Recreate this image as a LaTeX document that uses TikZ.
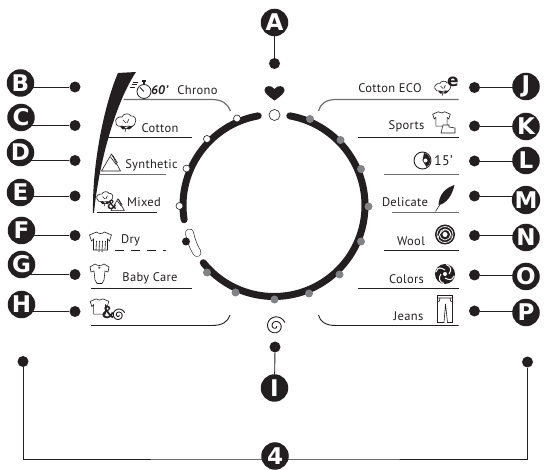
\documentclass[tikz,border=0pt]{standalone}
\usepackage{fontspec}
\usepackage{pgf, tikz}
\setmainfont{PT Sans}[LetterSpace=2.5]
\newfontfamily\bubblefont{DejaVu Sans}
\definecolor{ink}{HTML}{231F20}
\definecolor{markgrey}{HTML}{808285}
\pgfdeclarelayer{edgelayer}
\pgfdeclarelayer{nodelayer}
\pgfsetlayers{edgelayer,main,nodelayer}
\tikzstyle{edge}=[draw=ink, line width=0.9pt]
\tikzstyle{rule}=[draw=ink, line width=0.9pt]
\tikzstyle{softrule}=[draw=ink!65, line width=1.2pt]
\tikzstyle{iconline}=[draw=ink, line width=0.6pt]
\tikzstyle{bubble}=[circle, fill=ink, inner sep=0pt, minimum size=27.5pt, text=white, font=\bubblefont\bfseries\fontsize{23}{23}\selectfont]
\tikzstyle{dot}=[circle, fill=ink, inner sep=0pt, minimum size=11pt]
\tikzstyle{openmark}=[circle, fill=white, draw=ink, line width=0.6pt, inner sep=0pt, minimum size=7pt]
\tikzstyle{greymark}=[circle, fill=markgrey, inner sep=0pt, minimum size=8pt]
\tikzstyle{label}=[inner sep=0pt, text=ink, font=\fontsize{12.5}{12.5}\selectfont]
\tikzstyle{ringarc}=[draw=ink, line width=7pt, line cap=round]
\tikzset{
  cottonicon/.pic={
    \draw [style=iconline, fill=white] (-10,0) .. controls (-12,-4) and (-7,-7) .. (-4,-6) .. controls (-3,-10) and (4,-10) .. (5,-7) .. controls (9,-8) and (11,-3) .. (9,0) .. controls (9,3) and (5,4) .. (2,3) .. controls (0,4) and (-3,4) .. (-4,3) .. controls (-6,4) and (-10,3) .. cycle;
    \draw [style=iconline] (-3,-3) -- (0,0) (3,-4) -- (1,0);
    \fill [ink] (-6,3) .. controls (-3,3) and (0,3) .. (0,6) .. controls (1,3) and (3,3) .. (7,3) .. controls (4,7) and (2,7) .. (0,6) .. controls (-2,7) and (-4,7) .. cycle;
    \draw [style=iconline] (0,5) -- (-1,9);
  },
  shirticon/.pic={
    \draw [style=iconline, fill=white] (-4,-9) .. controls (-2,-7) and (2,-7) .. (4,-9) -- (11,-6) -- (9,0) -- (7,-2) -- (7,9) -- (-7,9) -- (-7,-2) -- (-9,0) -- (-11,-6) -- cycle;
  },
  swirlicon/.pic={
    \draw [draw=ink, line width=0.9pt] plot [domain=0:700, samples=70, smooth] ({(1+\x/78)*cos(\x)}, {(1+\x/78)*sin(\x)});
  },
  triangleicon/.pic={
    \draw [style=iconline, fill=white, line join=round] (0,-9) -- (-10,8) -- (9,8) -- cycle;
    \draw [style=iconline] (-1,-6) -- (5,2) (1,-8) -- (6,0);
  }
}

\begin{document}
\begin{tikzpicture}[x=1pt, y=-1pt]
	\useasboundingbox (0,0) rectangle (544,470);
	\begin{pgfonlayer}{nodelayer}
		\node [style=bubble] (A) at (274.5, 22.5) {A};
		\node [style=bubble] (B) at (20.5, 83) {B};
		\node [style=bubble] (C) at (21, 117.5) {C};
		\node [style=bubble] (D) at (20.5, 152.5) {D};
		\node [style=bubble] (E) at (20.5, 192.5) {E};
		\node [style=bubble] (F) at (21.5, 230.5) {F};
		\node [style=bubble] (G) at (21.5, 264.5) {G};
		\node [style=bubble] (H) at (21.5, 304.5) {H};
		\node [style=bubble] (I) at (274.5, 388) {I};
		\node [style=bubble] (J) at (526, 86.5) {J};
		\node [style=bubble] (K) at (526, 126.5) {K};
		\node [style=bubble] (L) at (526, 160.5) {L};
		\node [style=bubble] (M) at (526, 200) {M};
		\node [style=bubble] (N) at (526, 237.5) {N};
		\node [style=bubble] (O) at (526, 276.5) {O};
		\node [style=bubble] (P) at (526, 312.5) {P};
		\node [style=bubble] (four) at (275, 456) {4};
		\node [style=dot] (dotA) at (274.5, 63.5) {};
		\node [style=dot] (dotB) at (75, 87) {};
		\node [style=dot] (dotC) at (75, 125.5) {};
		\node [style=dot] (dotD) at (75, 160.5) {};
		\node [style=dot] (dotE) at (75, 196) {};
		\node [style=dot] (dotF) at (75, 235.5) {};
		\node [style=dot] (dotG) at (75, 274.5) {};
		\node [style=dot] (dotH) at (75, 311.5) {};
		\node [style=dot] (dotI) at (275, 347) {};
		\node [style=dot] (dotJ) at (474.5, 87.5) {};
		\node [style=dot] (dotK) at (474.5, 126) {};
		\node [style=dot] (dotL) at (474.5, 161) {};
		\node [style=dot] (dotM) at (474.5, 196) {};
		\node [style=dot] (dotN) at (474.5, 235.5) {};
		\node [style=dot] (dotO) at (474.5, 275) {};
		\node [style=dot] (dotP) at (474.5, 311) {};
		\node [style=dot] (dotleft) at (23, 361.5) {};
		\node [style=dot] (dotright) at (527.5, 362) {};
		\node [style=openmark] (top) at (274.5, 115) [minimum size=11pt] {};
		\node [style=openmark] (m1) at (237, 118.5) {};
		\node [style=openmark] (m2) at (207, 139) {};
		\node [style=openmark] (m3) at (186.5, 168.5) {};
		\node [style=openmark] (m4) at (179.5, 206) {};
		\node [style=dot] (m5) at (186, 241.5) [minimum size=8pt] {};
		\node [style=greymark] (m6) at (207, 272.5) {};
		\node [style=greymark] (m7) at (235.5, 292.5) {};
		\node [style=greymark] (m8) at (274.5, 299.5) {};
		\node [style=greymark] (m9) at (309, 293.5) {};
		\node [style=greymark] (m10) at (339.5, 274.5) {};
		\node [style=greymark] (m11) at (361, 241.5) {};
		\node [style=greymark] (m12) at (368.5, 206.5) {};
		\node [style=greymark] (m13) at (361, 169) {};
		\node [style=greymark] (m14) at (340.5, 140) {};
		\node [style=greymark] (m15) at (310, 119) {};
		\coordinate (ringc) at (274, 205.5);
		\coordinate (foot) at (275, 459);
	\end{pgfonlayer}
	\begin{pgfonlayer}{edgelayer}
		\draw [style=edge] (dotA) to (A);
		\draw [style=edge] (dotB) to (dotB -| B);
		\draw [style=edge] (dotC) to (dotC -| C);
		\draw [style=edge] (dotD) to (dotD -| D);
		\draw [style=edge] (dotE) to (dotE -| E);
		\draw [style=edge] (dotF) to (dotF -| F);
		\draw [style=edge] (dotG) to (dotG -| G);
		\draw [style=edge] (dotH) to (dotH -| H);
		\draw [style=edge] (dotI) to (I);
		\draw [style=edge] (dotJ) to (dotJ -| J);
		\draw [style=edge] (dotK) to (dotK -| K);
		\draw [style=edge] (dotL) to (dotL -| L);
		\draw [style=edge] (dotM) to (dotM -| M);
		\draw [style=edge] (dotN) to (dotN -| N);
		\draw [style=edge] (dotO) to (dotO -| O);
		\draw [style=edge] (dotP) to (dotP -| P);
		\draw [style=edge] (dotleft) |- (foot) -| (dotright);
		\draw [style=ringarc] (ringc) ++(100:91pt) arc [start angle=100, end angle=189, radius=91pt];
		\draw [style=ringarc] (ringc) ++(219:91pt) arc [start angle=219, end angle=440, radius=91pt];
		\draw [draw=ink, line width=0.6pt, double=white, double distance=7.5pt, line cap=round] (189.5, 233) .. controls (191, 240) and (193, 246) .. (197, 252.5);
	\end{pgfonlayer}

	% wedge
	\fill [ink] (118, 73) -- (136, 72) .. controls (117, 100) and (99, 160) .. (94, 213) -- (93, 213) .. controls (92, 160) and (106, 100) .. cycle;

	% rules left
	\draw [style=softrule] (123.5, 99.5) -- (212, 99.5) .. controls (222, 99.5) and (228, 104) .. (230.5, 111);
	\draw [style=rule] (107.5, 137) -- (191.5, 137);
	\draw [style=softrule] (100, 174.5) -- (165.5, 174.5);
	\draw [style=rule] (96.5, 212.5) -- (156.5, 212.5);
	\draw [style=rule, line width=1.2pt, dash pattern=on 9.5pt off 6.5pt] (114.5, 250.5) -- (166, 250.5);
	\draw [style=rule] (91, 288.5) -- (191.5, 288.5);
	\draw [style=rule] (91, 325.5) -- (212, 325.5) .. controls (222, 325.5) and (228, 322) .. (230, 315);
	% rules right
	\draw [style=softrule] (458.5, 99.5) -- (336, 99.5) .. controls (326, 99.5) and (320, 104) .. (318.5, 111);
	\draw [style=rule] (458.5, 137.5) -- (357.5, 137.5);
	\draw [style=softrule] (458.5, 174.5) -- (383.5, 174.5);
	\draw [style=softrule] (458.5, 212.5) -- (391.5, 212.5);
	\draw [style=rule] (458.5, 250.5) -- (383.5, 250.5);
	\draw [style=rule] (458.5, 288.5) -- (357.5, 288.5);
	\draw [style=rule] (458.5, 325.5) -- (336, 325.5) .. controls (326, 325.5) and (320, 322) .. (318.5, 315);

	% labels
	\node [style=label, font=\bfseries\itshape\fontsize{12.5}{12.5}\selectfont] (t60) at (159.5, 90) {60'};
	\node [style=label] (tchrono) at (197.5, 90) {Chrono};
	\node [style=label] (tcotton) at (160, 128.5) {Cotton};
	\node [style=label] (tsynth) at (151.5, 165) {Synthetic};
	\node [style=label] (tmixed) at (144, 202.5) {Mixed};
	\node [style=label] (tdry) at (130.5, 240.5) {Dry};
	\node [style=label] (tbaby) at (150, 278) {Baby Care};
	\node [style=label] (teco) at (390, 88) {Cotton ECO};
	\node [style=label] (tsports) at (406.5, 126.5) {Sports};
	\node [style=label, font=\fontsize{14}{14}\selectfont] (t15) at (443.5, 160.5) {15'};
	\node [style=label] (tdelicate) at (405, 202) {Delicate};
	\node [style=label] (twool) at (411, 241) {Wool};
	\node [style=label] (tcolors) at (406.5, 279) {Colors};
	\node [style=label] (tjeans) at (408.5, 316) {Jeans};

	% heart and centre swirl
	\fill [ink] (274.5, 100.5) .. controls (268, 96) and (264.5, 93) .. (264.5, 90) .. controls (264.5, 85.5) and (271.5, 84.5) .. (274.5, 89) .. controls (277.5, 84.5) and (284.5, 85.5) .. (284.5, 90) .. controls (284.5, 93) and (281, 96) .. (274.5, 100.5);
	\pic at (275.5, 326) {swirlicon};

	% stopwatch
	\draw [style=iconline, line width=0.8pt] (144, 91.5) circle [radius=7pt];
	\draw [style=iconline, line width=0.8pt] (144, 91.5) -- (140, 87.5);
	\draw [draw=ink, line width=1.6pt] (142, 81) -- (146, 81) (144, 81) -- (144, 84);
	\draw [draw=ink, line width=0.8pt] (133, 82) -- (138, 82) (131.5, 84.5) -- (137, 84.5) (130, 87) -- (135, 87);

	% cotton, triangle, mixed
	\pic at (126, 123) {cottonicon};
	\pic at (111.5, 163) {triangleicon};
	\pic at (118, 205) [scale=0.7] {triangleicon};
	\pic at (105, 199) [scale=0.8] {cottonicon};
	\node [style=label, font=\bfseries\fontsize{13}{13}\selectfont] (ampmixed) at (112, 205) {\&};

	% dry
	\pic at (100.5, 241) {shirticon};
	\draw [style=iconline] (96.5, 241) -- (96, 250) (99.5, 241) -- (99, 252) (102.5, 241) -- (102, 252) (105.5, 241) -- (105, 249);

	% baby care
	\draw [style=iconline] (95, 264) .. controls (97, 266) and (102, 266) .. (104, 264) -- (109, 267) -- (108, 272) -- (105, 271) -- (104, 280) -- (102, 283.5) -- (97, 283.5) -- (95, 280) -- (94, 271) -- (91, 272) -- (90, 267) -- cycle;
	\node [style=label, font=\fontsize{9}{9}\selectfont] (starbaby) at (99.5, 270) {*};

	% shirt, ampersand, swirl
	\pic at (99.5, 306.5) [scale=0.85] {shirticon};
	\node [style=label, font=\bfseries\fontsize{17}{17}\selectfont] (amph) at (108, 312.5) {\&};
	\pic at (118.5, 315) [scale=0.65] {swirlicon};

	% cotton eco
	\pic at (443, 88.5) [scale=0.8] {cottonicon};
	\node [style=label, font=\bubblefont\bfseries\fontsize{17}{17}\selectfont] (ecoe) at (453, 81.5) {e};

	% sports
	\pic at (441.5, 119) [scale=0.8] {shirticon};
	\draw [style=iconline, fill=white] (443, 125) -- (449, 125) -- (449, 127) -- (455, 128) -- (455, 133) -- (441, 133) -- cycle;

	% clock
	\draw [style=iconline, line width=0.9pt] (422.5, 160.5) circle [radius=8.5pt];
	\fill [ink] (422.5, 160.5) -- (424, 153) arc [start angle=80, end angle=-60, radius=7.5pt] -- cycle;
	\fill [white] (425.5, 160.5) circle [radius=2pt];

	% feather
	\fill [ink] (454.5, 185) .. controls (445, 188) and (439, 195) .. (438.5, 205) .. controls (446, 204) and (452, 196) .. cycle;
	\draw [style=iconline] (446, 195) -- (435.5, 211.5);

	% wool
	\fill [ink] (445, 234.5) circle [radius=10pt];
	\draw [draw=white, line width=0.7pt] (445, 234.5) circle [radius=8pt] (445, 234.5) circle [radius=5.5pt];
	\draw [draw=white, line width=0.7pt] (438, 238) .. controls (442, 226) and (452, 228) .. (451, 238);
	\fill [white] (445, 234.5) circle [radius=2.5pt];

	% colors
	\fill [ink] (445, 274) circle [radius=10pt];
	\draw [draw=white, line width=1pt] (445, 270) .. controls (441, 268) and (438, 266) .. (436, 272) (449, 274) .. controls (452, 270) and (451, 266) .. (446, 264.5) (445, 278) .. controls (449, 280) and (452, 281) .. (454, 276) (441, 274) .. controls (438, 278) and (439, 282) .. (444, 283.5);
	\fill [white] (445, 274) circle [radius=2pt];

	% jeans
	\draw [style=iconline, fill=white] (437.5, 295.5) -- (452.5, 295.5) -- (452.5, 322.5) -- (447.5, 322.5) -- (445.5, 304) -- (444, 322.5) -- (437.5, 322.5) -- cycle;
	\draw [style=iconline] (437.5, 298) -- (452.5, 298) (440, 298) .. controls (440, 301) and (439, 302) .. (437.5, 302) (450, 298) .. controls (450, 301) and (451, 302) .. (452.5, 302);
\end{tikzpicture}
\end{document}
